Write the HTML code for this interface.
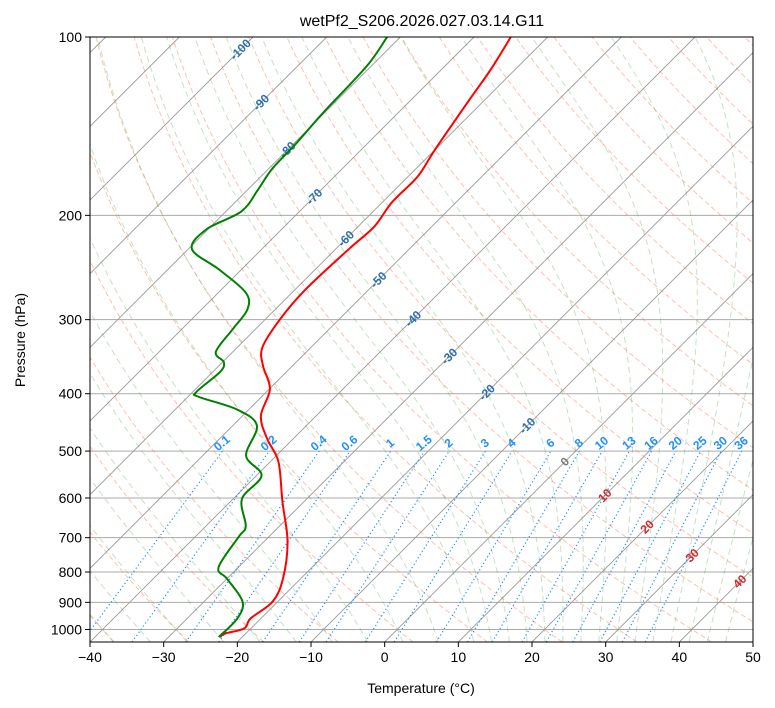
<!DOCTYPE html>
<html><head><meta charset="utf-8">
<style>
html,body{margin:0;padding:0;background:#fff;}
svg{display:block;font-family:"Liberation Sans","DejaVu Sans",sans-serif;}
</style></head>
<body>
<svg id="chart" width="775" height="708" viewBox="0 0 775 708" xmlns="http://www.w3.org/2000/svg">
<defs><clipPath id="clip"><rect x="90" y="37" width="663" height="605"/></clipPath></defs>
<text x="422" y="26" font-size="16" text-anchor="middle">wetPf2_S206.2026.027.03.14.G11</text>
<g id="plot" clip-path="url(#clip)"></g>
<g id="axes"></g>
<text x="421" y="693" font-size="14" text-anchor="middle">Temperature (°C)</text>
<text x="25" y="340" font-size="14" text-anchor="middle" transform="rotate(-90 25 340)">Pressure (hPa)</text>
</svg>
<script>
// ---- data ----
const tempP = [100,113.6,127.7,155,172,190,209,228,267,300,334,359,393,436,477,521,609,711,821,897,958,996,1016,1030];
const tempT = [-65,-63.3,-62.1,-60,-58.7,-58.7,-57.8,-58.2,-58.6,-58,-56.6,-54,-49.9,-47.5,-43.5,-38.9,-32.9,-26.8,-22.4,-20.7,-21.4,-20.9,-22.8,-23];
const dewP = [100,112,134,151,167,181,197,211,228,247,270,288,311,340,354,368,397,405,425,453,509,550,602,669,697,785,821,897,958,1030];
const dewT = [-81.8,-80.6,-80.2,-79.7,-79.5,-78.6,-77.9,-80.2,-79.5,-73,-66.3,-63.8,-63.1,-62.3,-59.8,-59,-59.5,-58.5,-51.7,-46.7,-44.1,-39.3,-38.8,-34.6,-34.1,-32.7,-30,-24.8,-23.2,-23.2];
const xTicks = [-40,-30,-20,-10,0,10,20,30,40,50];
const yTicks = [100,200,300,400,500,600,700,800,900,1000];
const isoLabelT = [-100,-90,-80,-70,-60,-50,-40,-30,-20,-10,0,10,20,30,40];
const isoLabelP = [105,129,155,186,219,257,299,346,398,453,521,594,671,750,830];
const mixW = [0.1,0.2,0.4,0.6,1,1.5,2,3,4,6,8,10,13,16,20,25,30,36];

// ---- scales ----
const X0=90,X1=753,Y0=37,Y1=642,TMIN=-40,TMAX=50,PTOP=100,PBOT=1050;
const kx=(X1-X0)/(TMAX-TMIN);
const ky=(Y1-Y0)/Math.log10(PBOT/PTOP);
function yP(p){return Y0+ky*Math.log10(p/PTOP);}
function xT(t,p){return X0+(t-TMIN)*kx+(Y1-yP(p));}
const NS='http://www.w3.org/2000/svg';
const plot=document.getElementById('plot'), axes=document.getElementById('axes');
function mk(tag,attrs,parent){const e=document.createElementNS(NS,tag);for(const k in attrs)e.setAttribute(k,attrs[k]);parent.appendChild(e);return e;}
function path(ts,ps){return ts.map((t,i)=>(i?'L':'M')+xT(t,ps[i]).toFixed(2)+','+yP(ps[i]).toFixed(2)).join('');}
function smooth(ts,ps){const pts=ts.map((t,i)=>[xT(t,ps[i]),yP(ps[i])]);let d='M'+pts[0][0].toFixed(2)+','+pts[0][1].toFixed(2);
for(let i=0;i<pts.length-1;i++){const p0=pts[Math.max(0,i-1)],p1=pts[i],p2=pts[i+1],p3=pts[Math.min(pts.length-1,i+2)];
const c1=[p1[0]+(p2[0]-p0[0])/6,p1[1]+(p2[1]-p0[1])/6],c2=[p2[0]-(p3[0]-p1[0])/6,p2[1]-(p3[1]-p1[1])/6];
d+='C'+c1[0].toFixed(2)+','+c1[1].toFixed(2)+' '+c2[0].toFixed(2)+','+c2[1].toFixed(2)+' '+p2[0].toFixed(2)+','+p2[1].toFixed(2);}
return d;}
const pgrid=[];for(let p=PBOT;p>=PTOP;p-=5)pgrid.push(p);

// isobars
for(const p of yTicks){const l=mk('line',{x1:X0,x2:X1,y1:yP(p),y2:yP(p),stroke:'#aaa','stroke-width':1},plot);

}
// isotherms
for(let t=-160;t<=50;t+=10){const l=mk('path',{d:path([t,t],[PBOT,PTOP]),stroke:'#999','stroke-width':0.9,fill:'none'},plot);

}
// dry adiabats
for(let t0=-50;t0<=200;t0+=10){const th=t0+273.15;const ts=pgrid.map(p=>th*Math.pow(p/1000,0.2857)-273.15);
const l=mk('path',{d:path(ts,pgrid),stroke:'rgba(245,120,85,0.45)','stroke-width':1,'stroke-dasharray':'5,3',fill:'none'},plot);

}
// moist adiabats
function es(tc){return 6.112*Math.exp(17.67*tc/(tc+243.5));}
function dTdp(tk,p){const Rd=287.04,Cp=1005.7,Lv=2.501e6,eps=0.622;const rs=eps*es(tk-273.15)/(p-es(tk-273.15));
return (1/p)*(Rd*tk+Lv*rs)/(Cp+Lv*Lv*rs*eps/(Rd*tk*tk));}
const moistT0=[];for(let t=-50;t<=10;t+=5)moistT0.push(t);for(let t=12.5;t<=45;t+=2.5)moistT0.push(t);
for(const t0 of moistT0){
  let up=[],pu=[],tk=t0+273.15;
  for(let p=1000;p>=PTOP;p-=2){up.push(tk-273.15);pu.push(p);tk-=dTdp(tk,p)*2;}
  let dn=[],pd=[];tk=t0+273.15;
  for(let p=1000;p<=PBOT;p+=2){dn.unshift(tk-273.15);pd.unshift(p);tk+=dTdp(tk,p)*2;}
  const l=mk('path',{d:path(dn.concat(up),pd.concat(pu)),stroke:'rgba(60,160,60,0.3)','stroke-width':1,'stroke-dasharray':'6,4',fill:'none'},plot);
  
  
}
// mixing ratio lines
function tdFromW(w,p){const e=p*w/(622+w);const a=Math.log(e/6.112);return 243.5*a/(17.67-a);}
for(const w of mixW){const ps=[PBOT,500];const ts=ps.map(p=>tdFromW(w,p));
const l=mk('path',{d:path(ts,ps),stroke:'#1e90ff','stroke-width':1.2,'stroke-dasharray':'1.2,2.6',fill:'none'},plot);


const x=xT(ts[1],500)+2,y=yP(500)-5;
const tx=mk('text',{x:x,y:y,'font-size':12,'font-weight':'bold',fill:'#1e90ff','text-anchor':'middle',transform:`rotate(-40 ${x} ${y})`},plot);
tx.textContent=String(w);

}
// isotherm labels
isoLabelT.forEach((t,i)=>{const p=isoLabelP[i];const x=xT(t,p),y=yP(p)+4;
const c=t<0?'#2a6fb0':(t===0?'#777':'#d62728');
const tx=mk('text',{x:x,y:y,'font-size':12,'font-weight':'bold',fill:c,'text-anchor':'middle',transform:`rotate(-45 ${x} ${y-4})`},plot);
tx.textContent=String(t);

});
// profiles
const tl=mk('path',{d:smooth(tempT,tempP),stroke:'#f00','stroke-width':2,fill:'none','stroke-linejoin':'round'},plot);


const dl=mk('path',{d:smooth(dewT,dewP),stroke:'#008000','stroke-width':2,fill:'none','stroke-linejoin':'round'},plot);


// frame
const fr=mk('rect',{x:X0,y:Y0,width:X1-X0,height:Y1-Y0,fill:'none',stroke:'#000','stroke-width':1},axes);


for(const t of xTicks){const x=X0+(t-TMIN)*kx;mk('line',{x1:x,x2:x,y1:Y1,y2:Y1+5,stroke:'#000'},axes);
const tx=mk('text',{x:x,y:Y1+20,'font-size':14,'text-anchor':'middle'},axes);tx.textContent=(t<0?'\u2212'+(-t):String(t));

}
for(const p of yTicks){const y=yP(p);mk('line',{x1:X0-5,x2:X0,y1:y,y2:y,stroke:'#000'},axes);
const tx=mk('text',{x:X0-8,y:y+5,'font-size':14,'text-anchor':'end'},axes);tx.textContent=String(p);

}
</script>
</body></html>
